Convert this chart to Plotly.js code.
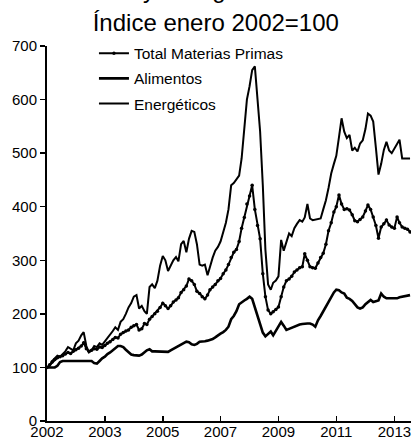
<!DOCTYPE html>
<html>
<head>
<meta charset="utf-8">
<script src="https://cdn.plot.ly/plotly-3.0.1.min.js"></script>
<style>html,body{margin:0;padding:0;background:#fff;}#chart{width:415px;height:447px;}</style>
</head>
<body>
<div id="chart"></div>
<script>
// Monthly index, January 2002 = 100 (Jan 2002 .. Jul 2013)
var startYear = 2002, startMonth = 1, nMonths = 139;

var totalMateriasPrimas = [
100,105,110,115,118,120,122,125,128,126,130,133,136,140,146,135,130,132,135,134,
138,137,141,145,148,152,156,155,162,165,168,170,175,178,180,170,172,182,180,190,
195,200,205,212,220,215,210,215,222,226,230,240,245,252,265,262,255,242,238,232,
228,235,245,250,255,262,266,275,282,292,305,315,320,335,360,380,405,420,440,395,
365,340,275,232,207,200,204,208,213,232,250,262,265,270,278,282,286,288,312,300,
288,286,285,295,305,313,330,355,370,390,400,422,405,395,396,394,385,374,372,376,
381,392,403,395,381,365,341,362,368,375,366,362,360,381,370,362,360,358,353];

var alimentos = [
100,100,100,100,103,110,112,112,112,112,112,112,112,112,112,112,113,112,108,107,
112,117,120,125,128,132,136,140,140,138,133,128,124,123,123,122,124,128,132,134,
130,130,130,130,130,130,129,132,135,138,140,143,146,148,147,143,142,144,148,148,
149,150,151,153,156,160,163,166,170,176,190,196,205,218,222,225,228,232,228,213,
196,182,165,158,162,167,160,168,176,185,178,170,172,174,177,179,180,181,182,182,
182,180,176,188,196,205,212,222,232,240,245,244,240,238,230,228,224,218,212,210,
212,218,222,226,222,223,225,238,232,229,229,228,229,229,231,232,233,234,235];

var energeticos = [
100,103,112,118,122,120,125,130,138,135,132,145,150,160,166,140,128,132,140,138,
145,142,148,155,160,168,175,170,185,190,200,212,220,232,235,210,215,205,200,250,
255,248,262,290,308,300,280,290,300,306,298,330,336,315,340,355,353,330,292,290,
292,272,290,305,318,325,335,352,370,395,440,444,450,458,490,540,600,625,655,662,
600,540,440,320,255,245,258,262,270,338,318,335,350,345,360,368,375,372,380,405,
378,375,376,377,378,395,412,435,462,480,495,530,565,540,528,534,505,510,503,518,
524,545,574,570,559,510,460,480,506,521,505,500,509,518,525,490,490,490,490];

var seriesNames = ['Total Materias Primas', 'Alimentos', 'Energéticos'];
var titleLine1 = 'y Energéticos';
var titleLine2 = 'Índice enero 2002=100';
var tickDates = ['2002-01-01','2003-11-01','2005-09-01','2007-07-01','2009-05-01','2011-03-01','2013-01-01'];
var tickLabels = ['2002','2003','2005','2007','2009','2011','2013'];
var yTicks = [0,100,200,300,400,500,600,700];

var months = [];
for (var i = 0; i < nMonths; i++) {
  var m = startMonth - 1 + i;
  var y = startYear + Math.floor(m / 12);
  var mm = (m % 12) + 1;
  months.push(y + '-' + (mm < 10 ? '0' + mm : mm) + '-01');
}

var traces = [
  {x: months, y: totalMateriasPrimas, name: seriesNames[0], legendgroup: 'a', type: 'scatter', mode: 'lines+markers',
   line: {color: '#000', width: 2}, marker: {color: '#000', size: 3.5, symbol: 'circle'}},
  {x: months, y: alimentos, name: seriesNames[1], legendgroup: 'b', type: 'scatter', mode: 'lines',
   line: {color: '#000', width: 2.6}},
  {x: months, y: energeticos, name: seriesNames[2], legendgroup: 'c', type: 'scatter', mode: 'lines',
   line: {color: '#000', width: 2}}
];

var FONT = '"Liberation Sans", Arial, sans-serif';
var layout = {
  width: 415, height: 447,
  margin: {l: 47, r: 4, t: 46, b: 26},
  paper_bgcolor: '#fff', plot_bgcolor: '#fff',
  font: {family: FONT, color: '#000'},
  title: {text: titleLine2,
          font: {size: 24, color: '#000', family: FONT},
          x: 0.52, xanchor: 'center', xref: 'container',
          y: 1 - 23 / 447, yref: 'container', yanchor: 'middle'},
  annotations: [{text: titleLine1, xref: 'paper', yref: 'paper', x: (215 - 47) / 364, xanchor: 'center',
                 y: 1 + (46 - 5) / 375, yanchor: 'bottom', showarrow: false,
                 font: {size: 24, color: '#000', family: FONT}}],
  showlegend: true,
  legend: {x: 0.129, y: 1.025, xanchor: 'left', yanchor: 'top', bgcolor: 'rgba(0,0,0,0)',
           font: {size: 15.5, color: '#000'}, tracegroupgap: 2},
  xaxis: {type: 'date', range: ['2002-01-01', '2013-07-12'],
          tickmode: 'array', tickvals: tickDates, ticktext: tickLabels,
          showgrid: false, zeroline: false, showline: true, linecolor: '#000', linewidth: 2,
          ticks: 'inside', ticklen: 5, tickwidth: 1.5, tickcolor: '#000', ticklabelstandoff: -4,
          tickfont: {size: 15, color: '#000'}},
  yaxis: {range: [0, 700], tickmode: 'array', tickvals: yTicks,
          showgrid: false, zeroline: false, showline: true, linecolor: '#000', linewidth: 2,
          ticks: 'outside', ticklen: 5, tickwidth: 1.5, tickcolor: '#000',
          tickfont: {size: 15, color: '#000'}}
};

Plotly.newPlot('chart', traces, layout, {displayModeBar: false, staticPlot: true});
</script>
</body>
</html>
